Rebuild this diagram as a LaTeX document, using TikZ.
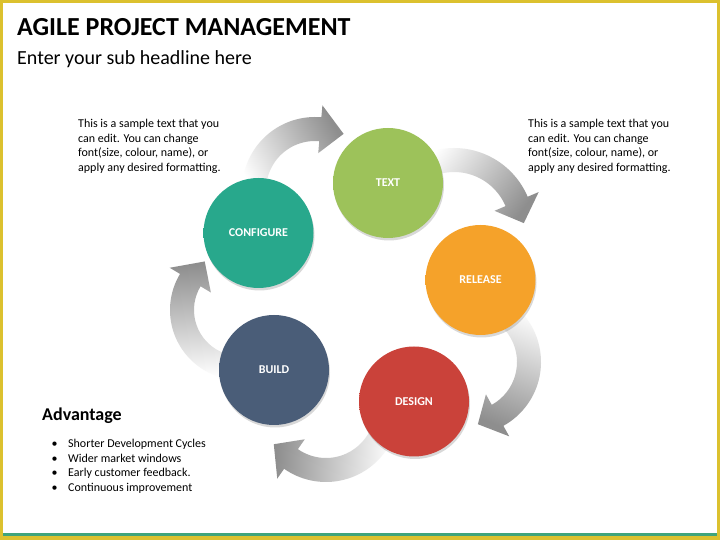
\documentclass[tikz,border=0pt]{standalone}
\usepackage{fontspec}
\setmainfont{Carlito}
\usetikzlibrary{shadows}
\definecolor{frameY}{HTML}{DCC12F}
\definecolor{frameG}{HTML}{3FA47C}
\definecolor{arrowG}{HTML}{8E8E8E}
\newcommand\mkbtn[2]{%
  \definecolor{#1}{HTML}{#2}%
  \colorlet{#1d}{#1!88!black}%
  \colorlet{#1dd}{#1!72!black}%
  \pgfdeclareradialshading{#1sh}{\pgfpoint{0bp}{0bp}}{color(0bp)=(#1); color(39bp)=(#1); color(46bp)=(#1d); color(50bp)=(#1dd)}}
\mkbtn{cText}{9DC25A}
\mkbtn{cConf}{28A88C}
\mkbtn{cRel}{F5A22A}
\mkbtn{cDes}{CA423A}
\mkbtn{cBuild}{4A5D78}
% #1 cx, #2 cy, #3 R, #4 start angle, #5 head base angle, #6 tip angle, #7 shading angle
\newcommand\cycarrow[7]{%
  \begin{scope}[shift={(#1,#2)}]
    \shade[bottom color=white, top color=arrowG, shading angle=#7]
      ({#4}:{#3+12}) arc[start angle=#4, end angle=#5, radius=#3+12]
      -- ({#5}:{#3+24}) -- ({#6}:{#3+2}) -- ({#5}:{#3-24}) -- ({#5}:{#3-12})
      arc[start angle=#5, end angle=#4, radius=#3-12] -- cycle;
  \end{scope}}
\begin{document}
\begin{tikzpicture}[x=1pt,y=1pt,
  btn/.style={circle, minimum size=110pt, inner sep=0pt, text=white,
    font=\bfseries\fontsize{12}{14}\selectfont,
    drop shadow={shadow xshift=1pt, shadow yshift=-2.5pt, opacity=0.3}},
  para/.style={anchor=base west, inner sep=0pt, font=\fontsize{12}{14.5}\selectfont}]
\useasboundingbox (0,0) rectangle (720,540);
% frame
\fill[frameY] (0,0) rectangle (720,540);
\fill[white] (3,7) rectangle (717,537);
\fill[frameG] (3,4) rectangle (717,7);
% titles
\node[anchor=base west, inner sep=0pt, font=\bfseries\fontsize{26}{31}\selectfont] (title) at (17,504) {AGILE PROJECT MANAGEMENT};
\node[anchor=base west, inner sep=0pt, font=\fontsize{20}{24}\selectfont] (sub) at (17,475) {Enter your sub headline here};
% arrows
\cycarrow{315}{350}{61}{190}{85}{63}{-62}
\cycarrow{454}{312}{68}{120}{23}{4}{-127}
\cycarrow{468}{178}{61}{55}{-61}{-81}{158}
\cycarrow{326}{131}{61}{-20}{-125}{-146}{86}
\cycarrow{240}{230}{58}{265}{149}{126}{5}
% circles
\node[btn, shade, shading=cTextsh] (text) at (388,357) {TEXT};
\node[btn, shade, shading=cConfsh] (configure) at (258.5,307) {CONFIGURE};
\node[btn, shade, shading=cRelsh] (release) at (480.5,260) {RELEASE};
\node[btn, shade, shading=cDessh] (design) at (414,138.5) {DESIGN};
\node[btn, shade, shading=cBuildsh] (build) at (274,170) {BUILD};
% sample texts
\node[para] (lefttext) at (78,412) {\parbox[t]{180pt}{\raggedright This is a sample text that you\\can edit. You can change\\font(size, colour, name), or\\apply any desired formatting.}};
\node[para] (righttext) at (528,412) {\parbox[t]{180pt}{\raggedright This is a sample text that you\\can edit. You can change\\font(size, colour, name), or\\apply any desired formatting.}};
% advantage
\node[anchor=base west, inner sep=0pt, font=\bfseries\fontsize{18}{22}\selectfont] (adv) at (42,119) {Advantage};
\node[para] (advlist) at (51.5,92) {\parbox[t]{200pt}{\raggedright
\makebox[16.5pt][l]{\textbullet}Shorter Development Cycles\\
\makebox[16.5pt][l]{\textbullet}Wider market windows\\
\makebox[16.5pt][l]{\textbullet}Early customer feedback.\\
\makebox[16.5pt][l]{\textbullet}Continuous improvement}};
\end{tikzpicture}
\end{document}
